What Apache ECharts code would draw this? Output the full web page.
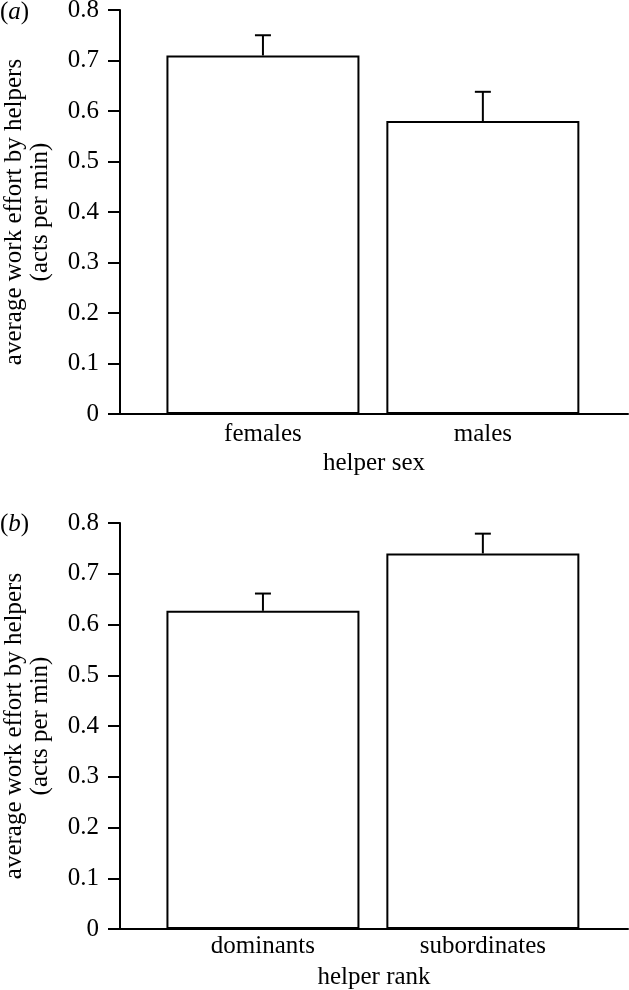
<!DOCTYPE html>
<html>
<head>
<meta charset="utf-8">
<script src="https://cdn.jsdelivr.net/npm/echarts@6/dist/echarts.min.js"></script>
<style>
html,body{margin:0;padding:0;background:#fff;}
#chart{width:629px;height:990px;}
</style>
</head>
<body>
<div id="chart"></div>
<script>
// ---- data ----
const categoriesA = ['females', 'males'];
const meansA = [0.71, 0.58];
const errorTopA = [0.75, 0.638];
const categoriesB = ['dominants', 'subordinates'];
const meansB = [0.627, 0.74];
const errorTopB = [0.661, 0.779];
const xNameA = 'helper sex';
const xNameB = 'helper rank';
const yName = 'average work effort by helpers\n(acts per min)';
const panelTags = ['a', 'b'];

// ---- chart ----
const FONT = '"Liberation Serif", "DejaVu Serif", serif';
const FS = 25;
const chart = echarts.init(document.getElementById('chart'), null, {renderer: 'canvas'});

const grids = [
  {left: 120, right: 1, top: 10, height: 404, outerBoundsMode: 'none', containLabel: false},
  {left: 120, right: 1, top: 523, height: 406, outerBoundsMode: 'none', containLabel: false}
];

function xAxisFor(idx, cats, name, labelMargin, nameGap) {
  return {
    type: 'value', gridIndex: idx, min: 0.35, max: 2.66,
    name: name, nameLocation: 'middle', nameGap: nameGap,
    nameTextStyle: {fontFamily: FONT, fontSize: FS, color: '#000'},
    axisLine: {show: true, onZero: false, lineStyle: {color: '#000', width: 2}},
    axisTick: {show: false},
    splitLine: {show: false},
    axisLabel: {
      customValues: cats.map((c, i) => i + 1),
      formatter: v => cats[Math.round(v) - 1] || '',
      fontFamily: FONT, fontSize: FS, color: '#000', margin: labelMargin
    }
  };
}
function yAxisFor(idx) {
  return {
    type: 'value', gridIndex: idx, min: 0, max: 0.8, interval: 0.1,
    name: yName, nameLocation: 'middle', nameGap: 67,
    nameTextStyle: {fontFamily: FONT, fontSize: FS, color: '#000', lineHeight: 26, align: 'center'},
    axisLine: {show: true, lineStyle: {color: '#000', width: 2}},
    axisTick: {show: true, inside: false, length: 12, lineStyle: {color: '#000', width: 2}},
    splitLine: {show: false},
    axisLabel: {
      fontFamily: FONT, fontSize: FS, color: '#000', margin: 21,
      formatter: v => (Math.abs(v) < 1e-9 ? '0' : v.toFixed(1))
    }
  };
}

function errRender(params, api) {
  const x = api.value(0), lo = api.value(1), hi = api.value(2);
  const p0 = api.coord([x, lo]);
  const p1 = api.coord([x, hi]);
  const st = {stroke: '#000', lineWidth: 2};
  return {
    type: 'group',
    children: [
      {type: 'line', shape: {x1: p0[0], y1: p0[1], x2: p1[0], y2: p1[1]}, style: st},
      {type: 'line', shape: {x1: p1[0] - 8, y1: p1[1], x2: p1[0] + 8, y2: p1[1]}, style: st}
    ]
  };
}

function barSeries(idx, means) {
  return {
    type: 'bar', xAxisIndex: idx, yAxisIndex: idx,
    barWidth: 193,
    data: means.map((m, i) => [i + 1, m]),
    itemStyle: {color: '#fff', borderColor: '#000', borderWidth: 2},
    emphasis: {disabled: true},
    z: 2
  };
}
function errSeries(idx, means, tops) {
  return {
    type: 'custom', xAxisIndex: idx, yAxisIndex: idx,
    data: means.map((m, i) => [i + 1, m, tops[i]]),
    renderItem: errRender,
    encode: {x: 0, y: [1, 2]},
    z: 3
  };
}

const tagText = t => ({
  type: 'text',
  style: {
    text: '(' + '{i|' + t + '})',
    rich: {i: {fontFamily: FONT, fontSize: FS, fontStyle: 'italic', fill: '#000'}},
    font: FS + 'px ' + FONT, fill: '#000'
  }
});

chart.setOption({
  animation: false,
  backgroundColor: '#fff',
  grid: grids,
  xAxis: [xAxisFor(0, categoriesA, xNameA, 8, 37), xAxisFor(1, categoriesB, xNameB, 5, 36)],
  yAxis: [yAxisFor(0), yAxisFor(1)],
  series: [
    barSeries(0, meansA), errSeries(0, meansA, errorTopA),
    barSeries(1, meansB), errSeries(1, meansB, errorTopB)
  ],
  graphic: [
    Object.assign(tagText(panelTags[0]), {left: 0, top: 0}),
    Object.assign(tagText(panelTags[1]), {left: 0, top: 512})
  ]
});
</script>
</body>
</html>
